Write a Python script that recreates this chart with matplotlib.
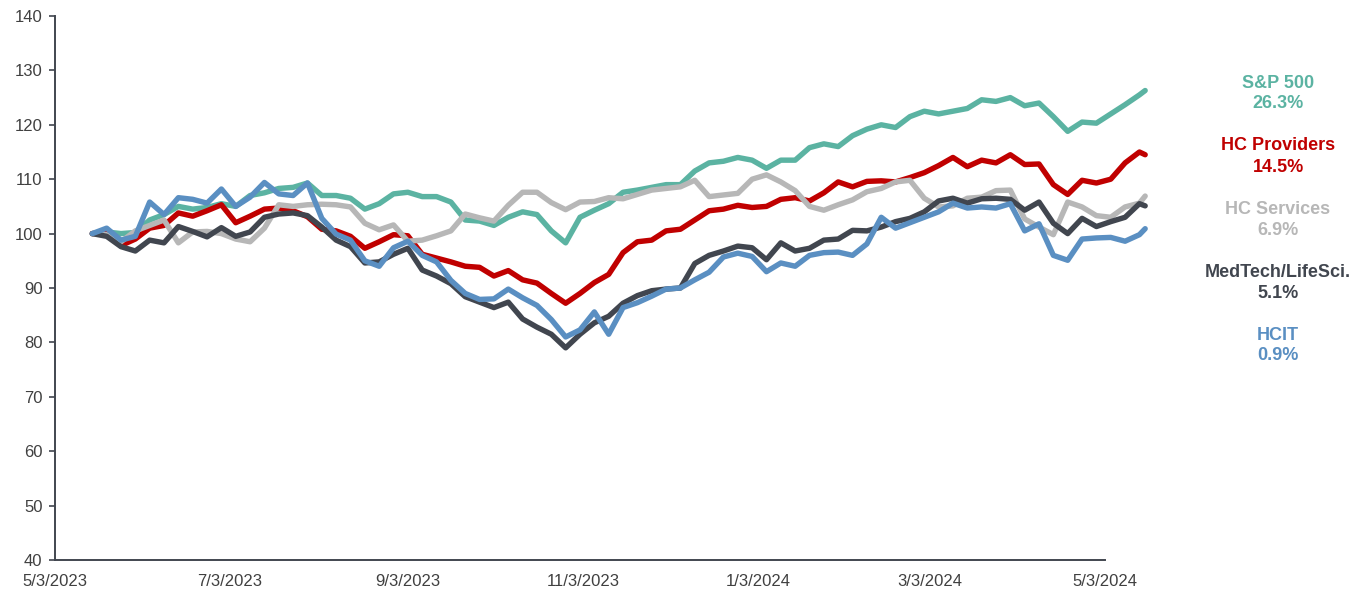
import matplotlib
matplotlib.use("Agg")
import matplotlib.pyplot as plt
import pandas as pd

# ---- data ----
dates = list(pd.date_range("2023-05-16", periods=74, freq="5D")) + [pd.Timestamp("2024-05-17")]

sp500 = [100, 100.3, 100, 100.2, 102.5, 103.5, 105, 104.5, 104.8, 105.5, 105, 107, 107.5, 108.3, 108.5,
         109.3, 107, 107, 106.5, 104.5, 105.5, 107.3, 107.6, 106.8, 106.8, 105.8, 102.5, 102.3, 101.5,
         103, 104, 103.5, 100.5, 98.3, 103, 104.3, 105.5, 107.6, 108, 108.5, 109, 109, 111.5, 113,
         113.3, 114, 113.5, 112, 113.5, 113.5, 115.8, 116.5, 116, 118, 119.2, 120, 119.5, 121.5, 122.5,
         122, 122.5, 123, 124.6, 124.3, 125, 123.5, 124, 121.5, 118.8, 120.5, 120.3, 122, 123.7,
         125.5, 126.3]

hc_providers = [100, 100.2, 97.8, 99, 101, 101.5, 103.8, 103.2, 104.2, 105.3, 102, 103.2, 104.5, 104.7,
                104.2, 103.1, 100.8, 100.5, 99.5, 97.3, 98.5, 99.8, 99.6, 96.2, 95.5, 94.8, 94, 93.8,
                92.2, 93.2, 91.5, 90.9, 89, 87.2, 89, 91, 92.5, 96.5, 98.5, 98.8, 100.5, 100.8, 102.5,
                104.2, 104.5, 105.2, 104.8, 105, 106.3, 106.6, 106, 107.5, 109.5, 108.6, 109.6, 109.7,
                109.5, 110.3, 111.2, 112.5, 114, 112.3, 113.5, 113, 114.5, 112.7, 112.8, 109, 107.2,
                109.8, 109.3, 110, 113, 115, 114.5]

hc_services = [100, 99.8, 98.5, 100.5, 101.5, 102.5, 98.3, 100.3, 100.4, 100, 99, 98.5, 101, 105.3,
               105, 105.3, 105.4, 105.3, 104.9, 101.9, 100.7, 101.6, 98.6, 98.8, 99.6, 100.5, 103.6,
               102.9, 102.3, 105.2, 107.6, 107.6, 105.7, 104.4, 105.8, 105.9, 106.6, 106.4, 107.2, 108,
               108.3, 108.6, 109.8, 106.8, 107.1, 107.4, 110, 110.8, 109.5, 107.9, 105, 104.3, 105.3,
               106.2, 107.7, 108.3, 109.5, 109.8, 106.5, 104.9, 105.1, 106.5, 106.7, 107.9, 108, 102.7,
               101.2, 99.8, 105.8, 104.9, 103.3, 103, 104.9, 105.6, 106.9]

medtech = [100, 99.5, 97.6, 96.8, 98.8, 98.3, 101.3, 100.4, 99.4, 101.1, 99.5, 100.3, 103, 103.6, 103.8,
           103.3, 101.2, 98.8, 97.6, 94.6, 94.8, 96.2, 97.3, 93.3, 92.2, 90.8, 88.4, 87.4, 86.4, 87.4,
           84.3, 82.8, 81.5, 79, 81.5, 83.6, 84.8, 87.2, 88.6, 89.5, 89.8, 90, 94.5, 96, 96.8, 97.7,
           97.4, 95.2, 98.3, 96.8, 97.3, 98.8, 99, 100.6, 100.5, 101.2, 102.2, 102.8, 104, 106, 106.5,
           105.6, 106.4, 106.5, 106.3, 104.3, 105.8, 101.9, 100, 102.8, 101.3, 102.2, 103, 105.5, 105.1]

hcit = [100, 101, 98.8, 99.5, 105.8, 103.5, 106.6, 106.3, 105.6, 108.2, 105, 106.7, 109.4, 107.3, 107,
        109.3, 102.8, 99.9, 98.8, 95, 94, 97.4, 98.6, 96, 94.8, 91.4, 89, 87.9, 88, 89.8, 88.2, 86.8,
        84.2, 81, 82.3, 85.6, 81.5, 86.4, 87.3, 88.5, 89.8, 90, 91.5, 92.9, 95.7, 96.4, 95.8, 93, 94.6,
        94, 96, 96.5, 96.6, 96, 98.1, 103, 101, 102, 103, 104, 105.6, 104.7, 104.9, 104.7, 105.5, 100.5,
        101.8, 96, 95.1, 99, 99.2, 99.3, 98.6, 99.8, 100.9]

series_names = ["S&P 500", "HC Providers", "HC Services", "MedTech/LifeSci.", "HCIT"]
series_returns = ["26.3%", "14.5%", "6.9%", "5.1%", "0.9%"]
series_values = [sp500, hc_providers, hc_services, medtech, hcit]
series_colors = ["#5BB3A2", "#C00000", "#B7B7B7", "#41464F", "#5A8FC2"]

xtick_dates = ["2023-05-03", "2023-07-03", "2023-09-03", "2023-11-03", "2024-01-03", "2024-03-03", "2024-05-03"]
xtick_labels = ["5/3/2023", "7/3/2023", "9/3/2023", "11/3/2023", "1/3/2024", "3/3/2024", "5/3/2024"]
yticks = [40, 50, 60, 70, 80, 90, 100, 110, 120, 130, 140]

# ---- plot ----
plt.rcParams["font.family"] = ["Liberation Sans", "DejaVu Sans"]
W, H = 1366, 590
fig = plt.figure(figsize=(W / 100, H / 100), dpi=100)
ax = fig.add_axes([55 / W, 1 - 560 / H, (1105 - 55) / W, (560 - 16) / H])

for name, vals, col in zip(series_names, series_values, series_colors):
    ax.plot(dates, vals, color=col, lw=3.9, solid_joinstyle="round", solid_capstyle="round",
            clip_on=False, zorder=3)

ax.set_xlim(pd.Timestamp(xtick_dates[0]), pd.Timestamp(xtick_dates[-1]))
ax.set_ylim(40, 140)
ax.set_yticks(yticks)
ax.set_yticklabels([str(v) for v in yticks])
ax.set_xticks([pd.Timestamp(d) for d in xtick_dates])
ax.set_xticklabels(xtick_labels)

axis_col = "#41464F"
for s in ["top", "right"]:
    ax.spines[s].set_visible(False)
for s in ["left", "bottom"]:
    ax.spines[s].set_color(axis_col)
    ax.spines[s].set_linewidth(1.4)
ax.tick_params(axis="y", direction="out", length=4, width=1.2, color=axis_col,
               labelsize=12, labelcolor="#404040", pad=5)
ax.tick_params(axis="x", length=0, labelsize=12, labelcolor="#404040", pad=10)

# right-side labels
label_y = [83, 146, 209, 272, 335]
for name, ret, col, yp in zip(series_names, series_returns, series_colors, label_y):
    fig.text(1278 / W, 1 - yp / H, name, color=col, fontsize=13, fontweight="bold",
             ha="center", va="center")
    fig.text(1278 / W, 1 - (yp + 21) / H, ret, color=col, fontsize=13, fontweight="bold",
             ha="center", va="center")

fig.savefig("out.png", dpi=100)
